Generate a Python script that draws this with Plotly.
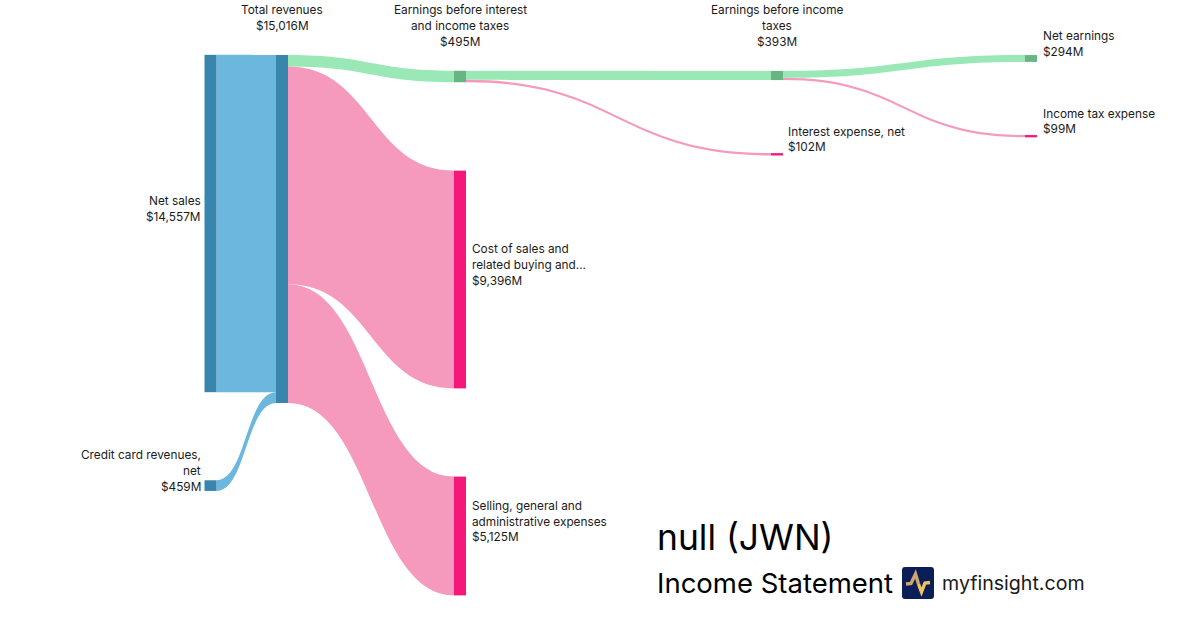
import plotly.graph_objects as go

W, H = 1200, 630

# ---- data ----
node_names = ["Net sales", "Credit card revenues, net", "Total revenues",
              "Earnings before interest and income taxes",
              "Cost of sales and related buying and occupancy costs",
              "Selling, general and administrative expenses",
              "Earnings before income taxes", "Interest expense, net",
              "Net earnings", "Income tax expense"]
link_source = [0, 1, 2, 2, 2, 3, 3, 6, 6]
link_target = [2, 2, 3, 4, 5, 6, 7, 8, 9]
link_values = [14557, 459, 495, 9396, 5125, 393, 102, 294, 99]

# ---- styling / placement ----
BLUE_N, GREEN_N, PINK_N = "#3885ad", "#66b583", "#f5187a"
BLUE_L, GREEN_L, PINK_L = "#6bb7de", "#9ae8b5", "#f59abc"
node_colors = [BLUE_N, BLUE_N, BLUE_N, GREEN_N, PINK_N, PINK_N, GREEN_N, PINK_N, GREEN_N, PINK_N]
link_colors = [BLUE_L, BLUE_L, GREEN_L, PINK_L, PINK_L, GREEN_L, PINK_L, GREEN_L, PINK_L]
node_cx = [210.5, 210.5, 282, 460, 460, 460, 777, 777, 1031, 1031]
node_cy = [223.5, 485.6, 229, 76.5, 279.5, 536, 75.5, 154.3, 58.5, 136.2]

label_blocks = [
    (282, "center", [10.2, 26.2], ["Total revenues", "$15,016M"]),
    (460, "center", [10.2, 26.2, 42.2], ["Earnings before interest", "and income taxes", "$495M"]),
    (777, "center", [10.2, 26.2, 42.2], ["Earnings before income", "taxes", "$393M"]),
    (1043, "left", [35.5, 51.5], ["Net earnings", "$294M"]),
    (1043, "left", [113.5, 129.5], ["Income tax expense", "$99M"]),
    (788, "left", [131.5, 146.5], ["Interest expense, net", "$102M"]),
    (472, "left", [249.2, 264.5, 280.5], ["Cost of sales and", "related buying and...", "$9,396M"]),
    (472, "left", [505.5, 521.5, 536.5], ["Selling, general and", "administrative expenses", "$5,125M"]),
    (201, "right", [200.5, 216.5], ["Net sales", "$14,557M"]),
    (201, "right", [455.2, 470.5, 487.2], ["Credit card revenues,", "net", "$459M"]),
]

fig = go.Figure(go.Sankey(
    arrangement="fixed",
    domain=dict(x=[0, 1], y=[0, 1]),
    node=dict(label=[""] * len(node_names), customdata=node_names,
              color=node_colors, thickness=12, pad=141, align="left",
              line=dict(width=0),
              x=[v / W for v in node_cx], y=[v / H for v in node_cy],
              hoverinfo="skip"),
    link=dict(source=link_source, target=link_target, value=link_values,
              color=link_colors, hoverinfo="skip"),
))

annotations = []


def add_text(x, y, text, anchor="left", size=11.8, color="#1a1a1a"):
    annotations.append(dict(x=x / W, y=1 - y / H, xref="paper", yref="paper", text=text,
                            showarrow=False, xanchor=anchor, yanchor="middle",
                            xshift=0, yshift=0, borderpad=0, borderwidth=0,
                            font=dict(family="Inter", size=size, color=color)))


for x, anchor, ys, lines in label_blocks:
    for y, line in zip(ys, lines):
        add_text(x, y, line, anchor)

add_text(657, 537.5, "null (JWN)", size=35.4, color="#000000")
add_text(657, 583, "Income Statement", size=27.5, color="#000000")
add_text(942, 583, "myfinsight.com", size=19.6, color="#1a1a1a")


def px(x, y):
    return f"{x / W:.5f},{1 - y / H:.5f}"


def poly(points, close=False):
    s = "M" + " L".join(px(x, y).replace(",", " ") for x, y in points)
    return s + (" Z" if close else "")


def rounded(x0, y0, x1, y1, r):
    p = lambda x, y: px(x, y).replace(",", " ")
    return (f"M{p(x0 + r, y0)} L{p(x1 - r, y0)} Q{p(x1, y0)} {p(x1, y0 + r)} "
            f"L{p(x1, y1 - r)} Q{p(x1, y1)} {p(x1 - r, y1)} L{p(x0 + r, y1)} "
            f"Q{p(x0, y1)} {p(x0, y1 - r)} L{p(x0, y0 + r)} Q{p(x0, y0)} {p(x0 + r, y0)} Z")


shapes = [
    dict(type="path", xref="paper", yref="paper", path=rounded(902, 567, 934, 599, 3),
         fillcolor="#0b1f56", line=dict(width=0)),
    dict(type="path", xref="paper", yref="paper",
         path=poly([(906, 584), (911, 583.5), (915.5, 574), (918.5, 584)]),
         line=dict(color="#d0a56e", width=3.4)),
    dict(type="path", xref="paper", yref="paper",
         path=poly([(918.5, 584), (921.5, 592), (925, 583), (930, 582.5)]),
         line=dict(color="#f0c35e", width=3.4)),
]

fig.update_layout(width=W, height=H, margin=dict(l=0, r=0, t=0, b=0),
                  paper_bgcolor="#ffffff", plot_bgcolor="#ffffff",
                  font=dict(family="Inter", size=12, color="#1a1a1a"),
                  annotations=annotations, shapes=shapes, showlegend=False)

fig.write_html("out.html", config=dict(displayModeBar=False),
               post_script="document.body.style.margin='0';document.body.style.overflow='hidden';")
